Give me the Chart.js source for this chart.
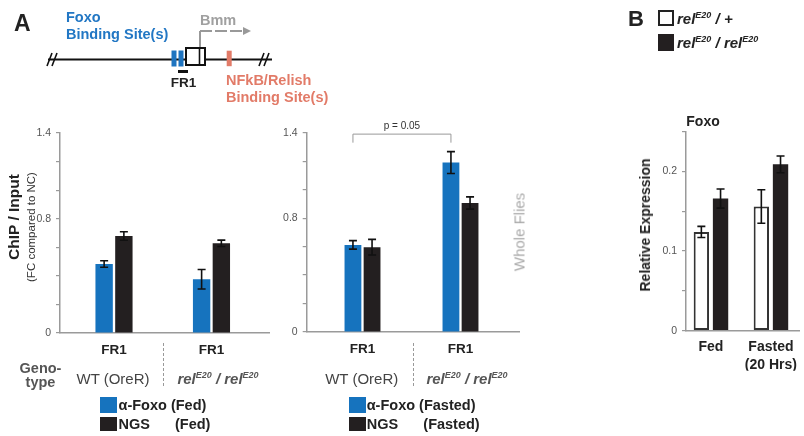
<!DOCTYPE html>
<html><head><meta charset="utf-8">
<script src="https://cdn.jsdelivr.net/npm/chart.js@4.4.1/dist/chart.umd.min.js"></script>
<style>
html,body{margin:0;padding:0;background:#fff;}
#wrap{position:relative;width:804px;height:436px;overflow:hidden;font-family:Arial,"Liberation Sans",Helvetica,sans-serif;}
canvas{position:absolute;left:0;top:0;}
svg{position:absolute;left:0;top:0;}
.t{position:absolute;white-space:nowrap;line-height:1;}
.c{transform:translate(-50%,-50%);}
.l{transform:translate(0,-50%);}
.r90{transform:translate(-50%,-50%) rotate(-90deg);}
.b{font-weight:bold;}
.i{font-style:italic;}
sup{font-size:0.6em;vertical-align:0.6em;line-height:0;}
.sq{position:absolute;box-sizing:border-box;}
</style></head>
<body>
<div id="wrap">
<svg width="804" height="436">
  <line x1="48" y1="59.5" x2="272" y2="59.5" stroke="#111" stroke-width="2"/>
  <path d="M47,66 L52,53 M52,66 L57,53" stroke="#111" stroke-width="1.6" fill="none"/>
  <path d="M259,66 L264,53 M264,66 L269,53" stroke="#111" stroke-width="1.6" fill="none"/>
  <rect x="171.5" y="50.5" width="5" height="16" fill="#1e74c0"/>
  <rect x="178.5" y="50.5" width="5" height="16" fill="#1e74c0"/>
  <rect x="186" y="48" width="19" height="17" fill="#fff" stroke="#111" stroke-width="2"/>
  <line x1="199.5" y1="48" x2="199.5" y2="65" stroke="#111" stroke-width="1.6"/>
  <line x1="200" y1="47" x2="200" y2="31" stroke="#999" stroke-width="2"/>
  <line x1="200" y1="31" x2="244" y2="31" stroke="#999" stroke-width="2" stroke-dasharray="12,3"/>
  <polygon points="243,27 251,31 243,35" fill="#999"/>
  <rect x="226.7" y="50.7" width="5" height="15.5" fill="#e27b68"/>
  <rect x="178" y="70" width="10" height="3" fill="#111"/>
  <line x1="163.5" y1="343" x2="163.5" y2="388" stroke="#999" stroke-width="1" stroke-dasharray="3,2"/>
  <line x1="413.5" y1="343" x2="413.5" y2="388" stroke="#999" stroke-width="1" stroke-dasharray="3,2"/>
</svg>
<canvas id="c1" width="804" height="436"></canvas>
<canvas id="c2" width="804" height="436"></canvas>
<canvas id="c3" width="804" height="436"></canvas>

<div class="t l b" style="left:14px;top:23px;font-size:23px;color:#222">A</div>
<div class="t l b" style="left:66px;top:17px;font-size:14.5px;color:#2277c4">Foxo</div>
<div class="t l b" style="left:66px;top:34px;font-size:14.5px;color:#2277c4">Binding Site(s)</div>
<div class="t l b" style="left:200px;top:19.5px;font-size:14.5px;color:#a0a0a0">Bmm</div>
<div class="t c b" style="left:183.5px;top:83px;font-size:13.5px;color:#222">FR1</div>
<div class="t l b" style="left:226px;top:80px;font-size:14.5px;color:#e27b68">NFkB/Relish</div>
<div class="t l b" style="left:226px;top:97px;font-size:14.5px;color:#e27b68">Binding Site(s)</div>

<div class="t l b" style="left:628px;top:19px;font-size:22px;color:#222">B</div>
<div class="sq" style="left:658px;top:9.5px;width:16px;height:16.5px;border:2px solid #222;background:#fff"></div>
<div class="sq" style="left:658px;top:34px;width:16px;height:16.5px;background:#231f20"></div>
<div class="t l b i" style="left:677px;top:18px;font-size:15px;color:#222">rel<sup>E20</sup> / +</div>
<div class="t l b i" style="left:677px;top:42px;font-size:15px;color:#222">rel<sup>E20</sup> / rel<sup>E20</sup></div>
<div class="t c b" style="left:703px;top:121px;font-size:14px;color:#222">Foxo</div>
<div class="t r90 b" style="left:645px;top:225px;font-size:14px;color:#222">Relative Expression</div>

<div class="t r90 b" style="left:13.5px;top:216.5px;font-size:15.5px;color:#222">ChIP / Input</div>
<div class="t r90" style="left:31.5px;top:227px;font-size:11.5px;color:#333">(FC compared to NC)</div>
<div class="t r90" style="left:519px;top:232px;font-size:15px;color:#aaa">Whole Flies</div>

<div class="t c b" style="left:40.5px;top:368px;font-size:14.5px;color:#555">Geno-</div>
<div class="t c b" style="left:40.5px;top:382px;font-size:14.5px;color:#555">type</div>
<div class="t c" style="left:113px;top:378px;font-size:15px;color:#444">WT (OreR)</div>
<div class="t c b i" style="left:218px;top:378px;font-size:15px;color:#555">rel<sup>E20</sup> / rel<sup>E20</sup></div>
<div class="t c" style="left:361.7px;top:378px;font-size:15px;color:#444">WT (OreR)</div>
<div class="t c b i" style="left:467px;top:378px;font-size:15px;color:#555">rel<sup>E20</sup> / rel<sup>E20</sup></div>

<div class="sq" style="left:100px;top:397px;width:16.5px;height:16px;background:#1673be"></div>
<div class="sq" style="left:100px;top:416.5px;width:16.5px;height:14.5px;background:#231f20"></div>
<div class="t l b" style="left:118.5px;top:405px;font-size:14.5px;color:#222">α-Foxo (Fed)</div>
<div class="t l b" style="left:118.5px;top:424px;font-size:14.5px;color:#222">NGS</div>
<div class="t l b" style="left:175px;top:424px;font-size:14.5px;color:#222">(Fed)</div>

<div class="sq" style="left:349px;top:397px;width:16.5px;height:16px;background:#1673be"></div>
<div class="sq" style="left:349px;top:416.5px;width:16.5px;height:14.5px;background:#231f20"></div>
<div class="t l b" style="left:366.7px;top:405px;font-size:14.5px;color:#222">α-Foxo (Fasted)</div>
<div class="t l b" style="left:366.7px;top:424px;font-size:14.5px;color:#222">NGS</div>
<div class="t l b" style="left:423.3px;top:424px;font-size:14.5px;color:#222">(Fasted)</div>
</div>

<script>
// ---- data ----
const sitesA = ['FR1', 'FR1'];
const fedFoxo = [0.483, 0.376];
const fedFoxoErr = [0.023, 0.068];
const fedNGS = [0.679, 0.628];
const fedNGSErr = [0.030, 0.022];
const fastFoxo = [0.612, 1.19];
const fastFoxoErr = [0.030, 0.077];
const fastNGS = [0.596, 0.906];
const fastNGSErr = [0.055, 0.043];
const conditionsB = ['Fed', ['Fasted', '(20 Hrs)']];
const hetFoxo = [0.124, 0.156];
const hetFoxoErr = [0.007, 0.021];
const homFoxo = [0.166, 0.209];
const homFoxoErr = [0.012, 0.0105];
const yLabelsA = [0, 0.8, 1.4];
const yLabelsB = [0, 0.1, 0.2];
const pText = 'p = 0.05';

const BLUE = '#1673be', BLACK = '#231f20', AXIS = '#9a9a9a';
const FONT = 'Arial, "Liberation Sans", Helvetica, sans-serif';

function pts(arr) { return arr.map((v, i) => ({x: i + 1, y: v})); }

const errorBars = {
  id: 'errorBars',
  afterDatasetsDraw(chart) {
    const ctx = chart.ctx, ys = chart.scales.y;
    ctx.save();
    ctx.strokeStyle = '#111';
    ctx.lineWidth = 1.6;
    chart.data.datasets.forEach((ds, di) => {
      const meta = chart.getDatasetMeta(di);
      meta.data.forEach((bar, i) => {
        const v = ds.data[i].y, e = ds.errors[i];
        const y1 = ys.getPixelForValue(v + e), y2 = ys.getPixelForValue(v - e);
        const x = bar.x, w = 4;
        ctx.beginPath();
        ctx.moveTo(x, y1); ctx.lineTo(x, y2);
        ctx.moveTo(x - w, y1); ctx.lineTo(x + w, y1);
        ctx.moveTo(x - w, y2); ctx.lineTo(x + w, y2);
        ctx.stroke();
      });
    });
    ctx.restore();
  }
};

const bracket = {
  id: 'bracket',
  afterDraw(chart) {
    const ctx = chart.ctx, ys = chart.scales.y;
    const m = chart.getDatasetMeta(0);
    const xa = m.data[0].x, xb = m.data[1].x;
    const yt = ys.getPixelForValue(1.39), yb = ys.getPixelForValue(1.33);
    ctx.save();
    ctx.strokeStyle = '#999';
    ctx.lineWidth = 1;
    ctx.beginPath();
    ctx.moveTo(xa, yb); ctx.lineTo(xa, yt); ctx.lineTo(xb, yt); ctx.lineTo(xb, yb);
    ctx.stroke();
    ctx.fillStyle = '#333';
    ctx.font = '10px ' + FONT;
    ctx.textAlign = 'center';
    ctx.textBaseline = 'middle';
    ctx.fillText(pText, (xa + xb) / 2, yt - 8);
    ctx.restore();
  }
};

function makeChart(id, cfg) {
  const labelsShown = cfg.yLabels;
  const round = v => Math.round(v * 1000) / 1000;
  return new Chart(document.getElementById(id), {
    type: 'bar',
    data: { datasets: cfg.datasets },
    plugins: cfg.plugins,
    options: {
      responsive: false,
      animation: false,
      devicePixelRatio: 1,
      layout: { padding: cfg.padding },
      plugins: { legend: { display: false }, tooltip: { enabled: false } },
      datasets: { bar: { categoryPercentage: cfg.cp, barPercentage: cfg.bp } },
      scales: {
        x: {
          type: 'linear', min: cfg.xmin, max: cfg.xmax, offset: false,
          grid: { display: false, drawTicks: false },
          border: { display: true, color: AXIS, width: 1.5 },
          afterBuildTicks: s => { s.ticks = cfg.cats.map((c, i) => ({value: i + 1})); },
          afterFit: s => { s.height = 40; },
          ticks: {
            autoSkip: false, maxRotation: 0, padding: cfg.xpad,
            color: '#222', font: { family: FONT, size: cfg.xfont, weight: 'bold', lineHeight: 1.3 },
            callback: v => cfg.cats[Math.round(v) - 1]
          }
        },
        y: {
          min: 0, max: cfg.ymax,
          grid: { drawOnChartArea: false, drawTicks: true, tickLength: 4, color: AXIS, lineWidth: 1.2 },
          border: { display: true, color: AXIS, width: 1.5 },
          afterFit: s => { s.width = 30; },
          ticks: {
            stepSize: cfg.step, padding: 5, color: '#555',
            font: { family: FONT, size: 10.5 },
            callback: v => labelsShown.some(l => Math.abs(l - v) < 1e-6) ? String(round(v)) : ''
          }
        }
      }
    }
  });
}

makeChart('c1', {
  cats: sitesA, yLabels: yLabelsA, ymax: 1.4, step: 0.2,
  xmin: 0.446, xmax: 2.59, cp: 0.405, bp: 0.88, xpad: 9, xfont: 13.5,
  padding: { left: 30, top: 133, right: 535, bottom: 63 },
  plugins: [errorBars],
  datasets: [
    { label: 'α-Foxo (Fed)', data: pts(fedFoxo), errors: fedFoxoErr, backgroundColor: BLUE, borderWidth: 0 },
    { label: 'NGS (Fed)', data: pts(fedNGS), errors: fedNGSErr, backgroundColor: BLACK, borderWidth: 0 }
  ]
});

makeChart('c2', {
  cats: sitesA, yLabels: yLabelsA, ymax: 1.4, step: 0.2,
  xmin: 0.4306, xmax: 2.597, cp: 0.39, bp: 0.88, xpad: 9, xfont: 13.5,
  padding: { left: 276.7, top: 132.7, right: 285, bottom: 64 },
  plugins: [errorBars, bracket],
  datasets: [
    { label: 'α-Foxo (Fasted)', data: pts(fastFoxo), errors: fastFoxoErr, backgroundColor: BLUE, borderWidth: 0 },
    { label: 'NGS (Fasted)', data: pts(fastNGS), errors: fastNGSErr, backgroundColor: BLACK, borderWidth: 0 }
  ]
});

makeChart('c3', {
  cats: conditionsB, yLabels: yLabelsB, ymax: 0.25, step: 0.05,
  xmin: 0.584, xmax: 2.472, cp: 0.64, bp: 0.8, xpad: 7, xfont: 14,
  padding: { left: 656, top: 131.7, right: 0, bottom: 65.3 },
  plugins: [errorBars],
  datasets: [
    { label: 'rel E20 / +', data: pts(hetFoxo), errors: hetFoxoErr, backgroundColor: '#fff', borderColor: '#333', borderWidth: 2, borderSkipped: false },
    { label: 'rel E20 / rel E20', data: pts(homFoxo), errors: homFoxoErr, backgroundColor: BLACK, borderWidth: 0 }
  ]
});
</script>
</body></html>
